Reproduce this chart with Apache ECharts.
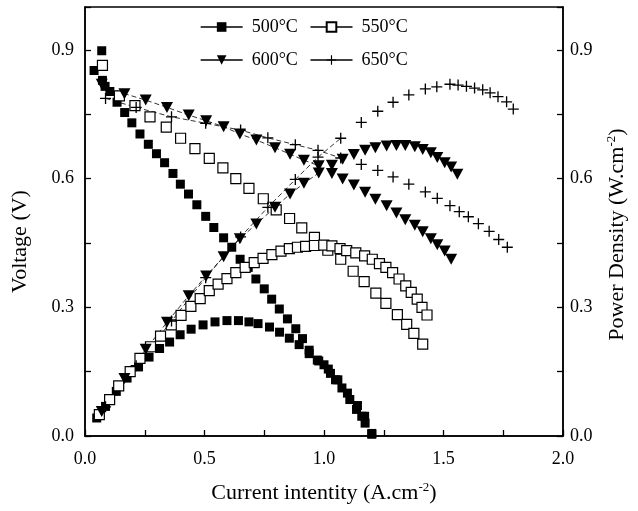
<!DOCTYPE html>
<html><head><meta charset="utf-8">
<script src="https://cdn.jsdelivr.net/npm/echarts@6/dist/echarts.min.js"></script>
<style>html,body{margin:0;padding:0;background:#fff}#c{width:638px;height:511px}</style>
</head><body><div id="c"></div>
<script>
// ---------------- data ----------------
const xTickLabels = ['0.0', '0.5', '1.0', '1.5', '2.0'];
const yTickLabels = ['0.0', '0.3', '0.6', '0.9'];
const seriesNames = ['500°C', '550°C', '600°C', '650°C'];

// 500 °C
const i500v = [0.038,0.070,0.073,0.084,0.104,0.134,0.166,0.196,0.230,0.265,0.299,0.333,0.368,0.399,0.433,0.468,0.505,0.539,0.580,0.614,0.649,0.683,0.715,0.750,0.781,0.813,0.847,0.882,0.910,0.938,0.972,1.000,1.027,1.048,1.075,1.108,1.136,1.158,1.172,1.200];
const v500  = [0.852,0.898,0.829,0.815,0.803,0.778,0.754,0.730,0.704,0.680,0.658,0.637,0.612,0.587,0.564,0.539,0.512,0.486,0.462,0.440,0.412,0.393,0.366,0.343,0.319,0.296,0.273,0.250,0.227,0.200,0.177,0.166,0.146,0.131,0.112,0.085,0.062,0.046,0.030,0.004];
const i500p = [0.049,0.086,0.131,0.176,0.224,0.268,0.312,0.354,0.398,0.444,0.494,0.544,0.594,0.642,0.686,0.724,0.772,0.814,0.855,0.896,0.938,0.978,1.018,1.058,1.098,1.140,1.170,1.200];
const p500  = [0.042,0.069,0.104,0.135,0.161,0.184,0.204,0.219,0.236,0.249,0.259,0.266,0.269,0.269,0.266,0.262,0.254,0.242,0.228,0.213,0.192,0.175,0.156,0.131,0.100,0.071,0.046,0.006];

// 550 °C
const i550v = [0.073,0.144,0.209,0.272,0.340,0.400,0.460,0.520,0.577,0.631,0.686,0.746,0.800,0.856,0.907,0.960,1.016,1.070,1.122,1.168,1.217,1.259,1.307,1.346,1.376,1.413];
const v550  = [0.864,0.793,0.770,0.744,0.720,0.694,0.670,0.647,0.625,0.600,0.577,0.553,0.527,0.507,0.485,0.463,0.433,0.412,0.384,0.360,0.333,0.309,0.283,0.260,0.239,0.214];
const i550p = [0.060,0.103,0.141,0.189,0.230,0.274,0.316,0.361,0.402,0.443,0.482,0.520,0.557,0.594,0.631,0.670,0.708,0.745,0.782,0.820,0.855,0.889,0.923,0.960,0.999,1.033,1.067,1.095,1.133,1.170,1.202,1.232,1.259,1.287,1.314,1.342,1.365,1.390,1.410,1.431];
const p550  = [0.050,0.085,0.117,0.150,0.181,0.208,0.233,0.259,0.281,0.302,0.320,0.339,0.354,0.367,0.381,0.393,0.404,0.414,0.423,0.431,0.437,0.440,0.442,0.444,0.445,0.443,0.437,0.432,0.427,0.420,0.412,0.402,0.393,0.381,0.366,0.350,0.335,0.319,0.300,0.282];

// 600 °C
const i600 = [0.070,0.165,0.254,0.343,0.434,0.507,0.580,0.648,0.717,0.795,0.858,0.916,0.978,1.033,1.078,1.125,1.172,1.215,1.262,1.303,1.340,1.380,1.413,1.447,1.474,1.505,1.532,1.558];
const v600 = [0.820,0.798,0.783,0.766,0.748,0.735,0.721,0.704,0.690,0.672,0.657,0.643,0.630,0.612,0.599,0.585,0.568,0.552,0.537,0.520,0.504,0.491,0.476,0.460,0.446,0.431,0.412,null];
const p600 = [0.057,0.134,0.202,0.265,0.327,0.373,0.418,0.460,0.494,0.533,0.564,0.589,0.613,0.631,0.645,0.656,0.666,0.672,0.676,0.677,0.677,0.674,0.668,0.660,0.649,0.637,0.627,0.610];

// 650 °C
const i650v = [0.086,0.214,0.362,0.505,0.651,0.765,0.880,0.975,1.070,1.156,1.225,1.289,1.355,1.424,1.474,1.527,1.566,1.604,1.646,1.691,1.731,1.767];
const v650  = [0.787,0.766,0.744,0.729,0.713,0.695,0.679,0.666,0.648,0.633,0.619,0.604,0.587,0.569,0.554,0.537,0.523,0.511,0.495,0.477,0.458,0.440];
const i650p = [0.086,0.214,0.362,0.505,0.651,0.765,0.880,0.975,1.070,1.156,1.225,1.289,1.355,1.424,1.472,1.527,1.561,1.596,1.630,1.664,1.695,1.728,1.764,1.792];
const p650  = [0.068,0.164,0.268,0.369,0.464,0.533,0.598,0.650,0.694,0.731,0.757,0.778,0.795,0.809,0.814,0.820,0.818,0.815,0.811,0.807,0.800,0.791,0.779,0.762];

// ---------------- styling / building ----------------
const FONT = '"Liberation Serif", "Times New Roman", serif';
const zip = (xs, ys) => xs.map((x, k) => [x, ys[k]]);
const upTo = (pairs, lim) => pairs.filter(p => p[0] <= lim && p[1] != null);

const CROSS = 'path://M4.4,0 H5.6 V4.4 H10 V5.6 H5.6 V10 H4.4 V5.6 H0 V4.4 H4.4 Z';
const marker = {
  '500°C': { symbol: 'rect', symbolSize: 9, itemStyle: { color: '#000' } },
  '550°C': { symbol: 'rect', symbolSize: 10, itemStyle: { color: '#fff', borderColor: '#000', borderWidth: 1.2 } },
  '600°C': { symbol: 'triangle', symbolSize: [12, 11], symbolRotate: 180, itemStyle: { color: '#000' } },
  '650°C': { symbol: CROSS, symbolSize: 11, itemStyle: { color: '#000' } }
};

function markerSeries(name, data, yIdx) {
  return Object.assign({
    type: 'line', name, data, yAxisIndex: yIdx,
    showSymbol: true, showAllSymbol: true,
    lineStyle: { opacity: 0 },
    silent: true, animation: false, z: 3
  }, marker[name]);
}
function dashSeries(name, data, yIdx) {
  return {
    type: 'line', name, data, yAxisIndex: yIdx, symbol: 'none', showSymbol: false,
    lineStyle: { color: '#000', width: 0.8, type: [5, 3] }, silent: true, animation: false, z: 2
  };
}

const series = [
  markerSeries('500°C', zip(i500v, v500), 0),
  markerSeries('500°C', zip(i500p, p500), 1),
  markerSeries('550°C', zip(i550v, v550), 0),
  markerSeries('550°C', zip(i550p, p550), 1),
  markerSeries('600°C', zip(i600, v600), 0),
  markerSeries('600°C', zip(i600, p600), 1),
  markerSeries('650°C', zip(i650v, v650), 0),
  markerSeries('650°C', zip(i650p, p650), 1),
  dashSeries('600°C', upTo(zip(i600, v600), 1.0), 0),
  dashSeries('600°C', upTo(zip(i600, p600), 1.0), 1),
  dashSeries('650°C', upTo(zip(i650v, v650), 1.08), 0),
  dashSeries('650°C', upTo(zip(i650p, p650), 1.08), 1)
];

const xFmt = v => { const k = Math.round(v / 0.5); return Math.abs(v - k * 0.5) < 1e-6 ? (xTickLabels[k] || '') : ''; };
const yFmt = v => { const k = Math.round(v / 0.3); return Math.abs(v - k * 0.3) < 1e-6 ? (yTickLabels[k] || '') : ''; };

const axisLine = { show: true, lineStyle: { color: '#000', width: 1.5 } };
const tick = { show: true, inside: true, length: 6, lineStyle: { color: '#000', width: 1.3 } };
const labelStyle = { color: '#000', fontSize: 18, fontFamily: FONT };
const supRich = { s: { fontSize: 13, fontFamily: FONT, color: '#000', verticalAlign: 'top', lineHeight: 14 } };
const nameStyle = (pad) => ({ color: '#000', fontSize: 22, fontFamily: FONT, lineHeight: 25, rich: supRich, padding: pad });

const legendCommon = {
  orient: 'horizontal', itemWidth: 42, itemHeight: 12, itemGap: 12, padding: 0,
  selectedMode: false,
  textStyle: { color: '#000', fontSize: 18, fontFamily: FONT, padding: [0, 0, 0, 4] },
  lineStyle: { color: '#000', width: 1.3, type: 'solid', opacity: 1 }
};

const option = {
  backgroundColor: '#fff',
  animation: false,
  grid: { left: 84, right: 68, top: 7, bottom: 71, show: true, borderColor: '#000', borderWidth: 1.5 },
  legend: [
    Object.assign({ data: [seriesNames[0], seriesNames[1]], left: 200, top: 18 }, legendCommon),
    Object.assign({ data: [seriesNames[2], seriesNames[3]], left: 200, top: 51 }, legendCommon)
  ],
  xAxis: {
    type: 'value', min: 0, max: 2, interval: 0.25,
    axisLine, axisTick: tick, splitLine: { show: false },
    axisLabel: Object.assign({ formatter: xFmt, margin: 14, showMinLabel: true, showMaxLabel: true }, labelStyle),
    name: 'Current intentity (A.cm{s|-2})', nameLocation: 'middle', nameGap: 45, nameTextStyle: nameStyle(0)
  },
  yAxis: [
    {
      type: 'value', min: 0, max: 1, interval: 0.15, position: 'left',
      axisLine, axisTick: tick, splitLine: { show: false },
      axisLabel: Object.assign({ formatter: yFmt, margin: 11 }, labelStyle),
      name: 'Voltage (V)', nameLocation: 'middle', nameRotate: 90, nameGap: 52, nameTextStyle: nameStyle([0, 40, 0, 0])
    },
    {
      type: 'value', min: 0, max: 1, interval: 0.15, position: 'right',
      axisLine, axisTick: tick, splitLine: { show: false },
      axisLabel: Object.assign({ formatter: yFmt, margin: 7 }, labelStyle),
      name: 'Power Density (W.cm{s|-2})', nameLocation: 'middle', nameRotate: 90, nameGap: 42, nameTextStyle: nameStyle([0, 26, 0, 0])
    }
  ],
  series
};

echarts.init(document.getElementById('c'), null, { renderer: 'canvas' }).setOption(option);
</script>
</body></html>
